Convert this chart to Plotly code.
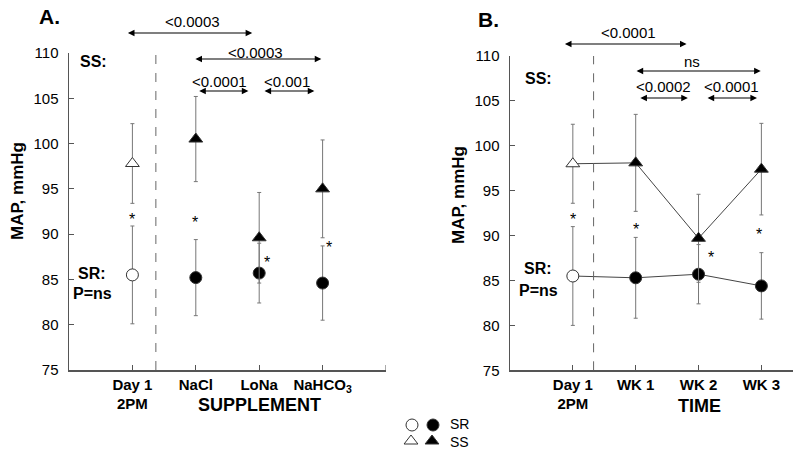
import plotly.graph_objects as go

# ---------------- data ----------------
cats_a = ["Day 1<br>2PM", "NaCl", "LoNa", "NaHCO<sub>3</sub>"]
cats_b = ["Day 1<br>2PM", "WK 1", "WK 2", "WK 3"]
x_pos = [1, 2, 3, 4]

sr_a = [85.5, 85.2, 85.7, 84.6]
sr_a_err = [5.4, 4.2, 3.3, 4.1]
ss_a = [97.8, 100.5, 89.6, 95.0]
ss_a_err = [4.4, 4.7, 5.0, 5.4]

sr_b = [85.5, 85.3, 85.7, 84.4]
sr_b_err = [5.5, 4.5, 3.3, 3.7]
ss_b = [98.0, 98.1, 89.7, 97.4]
ss_b_err = [4.4, 5.4, 4.9, 5.1]

# asterisk positions (x, y)
star_a_x = [1.0, 1.98, 3.13, 4.1]
star_a_y = [92.1, 91.7, 87.3, 89.0]
star_b_x = [1.0, 2.0, 3.2, 3.97]
star_b_y = [92.2, 91.1, 88.0, 90.6]

# p-value brackets: label, label x, label y(px), arrow start x, arrow end x, arrow y(px)
brackets_a = [
    ("<0.0003", 1.94, 21, 0.905, 2.89, 33),
    ("<0.0003", 2.94, 52, 1.97, 3.98, 59),
    ("<0.0001", 2.38, 81, 2.03, 2.83, 91),
    ("<0.001", 3.44, 81, 3.06, 3.87, 91),
]
brackets_b = [
    ("<0.0001", 1.89, 33, 0.85, 2.81, 44),
    ("ns", 2.89, 62, 1.99, 3.99, 71),
    ("<0.0002", 2.45, 86, 2.05, 2.83, 98),
    ("<0.0001", 3.53, 86, 3.12, 3.93, 98),
]

# key (legend) entries: label, pixel x of open / filled symbol, pixel y
key_labels = ["SR", "SS"]
key_symbols = ["circle", "triangle-up"]
key_x_open = [412, 411]
key_x_filled = [433, 432]
key_y = [425, 441]

H = 455.0
FONT = "Liberation Sans, Arial, Helvetica, sans-serif"
AX = "#555555"
ERR = "#777777"
open_fill = ["white", "black", "black", "black"]


def py(px):
    return 1 - px / H


fig = go.Figure()

# ---- panel A ----
fig.add_trace(go.Scatter(
    x=x_pos, y=sr_a, mode="markers", xaxis="x", yaxis="y",
    marker=dict(symbol="circle", size=12, color=open_fill, line=dict(color="#333", width=1)),
    error_y=dict(type="data", array=sr_a_err, color=ERR, thickness=1, width=2),
    showlegend=False, cliponaxis=False))
fig.add_trace(go.Scatter(
    x=x_pos, y=ss_a, mode="markers", xaxis="x", yaxis="y",
    marker=dict(symbol="triangle-up", size=12, color=open_fill, line=dict(color="#333", width=1)),
    error_y=dict(type="data", array=ss_a_err, color=ERR, thickness=1, width=2),
    showlegend=False, cliponaxis=False))

# ---- panel B ----
fig.add_trace(go.Scatter(
    x=x_pos, y=sr_b, mode="lines+markers", xaxis="x2", yaxis="y2",
    line=dict(color="#444", width=1),
    marker=dict(symbol="circle", size=12, color=open_fill, line=dict(color="#333", width=1)),
    error_y=dict(type="data", array=sr_b_err, color=ERR, thickness=1, width=2),
    showlegend=False, cliponaxis=False))
fig.add_trace(go.Scatter(
    x=x_pos, y=ss_b, mode="lines+markers", xaxis="x2", yaxis="y2",
    line=dict(color="#444", width=1),
    marker=dict(symbol="triangle-up", size=12, color=open_fill, line=dict(color="#333", width=1)),
    error_y=dict(type="data", array=ss_b_err, color=ERR, thickness=1, width=2),
    showlegend=False, cliponaxis=False))

# ---- key markers on a hidden full-page axis (pixel units) ----
for sym, xo, xf, yk in zip(key_symbols, key_x_open, key_x_filled, key_y):
    fig.add_trace(go.Scatter(
        x=[xo, xf], y=[yk, yk], mode="markers", xaxis="x3", yaxis="y3",
        marker=dict(symbol=sym, size=12, color=["white", "black"], line=dict(color="#333", width=1)),
        showlegend=False, cliponaxis=False, hoverinfo="skip"))

annotations = []
# asterisks
for xs, ys, xr, yr in [(star_a_x, star_a_y, "x", "y"), (star_b_x, star_b_y, "x2", "y2")]:
    for xv, yv in zip(xs, ys):
        annotations.append(dict(x=xv, y=yv, xref=xr, yref=yr, text="*", showarrow=False,
                                xanchor="center", yanchor="middle",
                                font=dict(size=16, family=FONT, color="black"),
                                yshift=-4))

# brackets
for brs, xr in [(brackets_a, "x"), (brackets_b, "x2")]:
    for lab, lx, ly, a0, a1, ay in brs:
        annotations.append(dict(x=lx, y=py(ly), xref=xr, yref="paper", text=lab,
                                xanchor="center", yanchor="middle",
                                showarrow=False, font=dict(size=15, family=FONT, color="black")))
        annotations.append(dict(x=a1, y=py(ay), xref=xr, yref="paper", ax=a0, axref=xr,
                                ay=0, ayref="pixel", text="", showarrow=True,
                                xanchor="center", yanchor="middle",
                                arrowside="end+start", arrowhead=2, arrowsize=1.1,
                                arrowwidth=1.2, arrowcolor="black", standoff=0, startstandoff=0))

bold = dict(family=FONT, size=16, color="black", weight="bold")
# panel labels and group labels
for txt, xpx, ypx, size in [
    ("A.", 49, 17, 21), ("B.", 489, 20, 21),
    ("SS:", 93, 62, 16), ("SR:", 92, 273, 16), ("P=ns", 92, 293, 16),
    ("SS:", 538, 78, 16), ("SR:", 538, 268, 16), ("P=ns", 538, 290, 16),
]:
    annotations.append(dict(x=xpx / 800, y=py(ypx), xref="paper", yref="paper", text=txt,
                            xanchor="center", yanchor="middle",
                            showarrow=False, font=dict(bold, size=size)))

# axis titles
for txt, xpx, ypx, ang in [
    ("MAP, mmHg", 17, 191, -90), ("MAP, mmHg", 458, 195, -90),
    ("SUPPLEMENT", 259, 405, 0), ("TIME", 699, 406, 0),
]:
    annotations.append(dict(x=xpx / 800, y=py(ypx), xref="paper", yref="paper", text=txt,
                            xanchor="center", yanchor="middle",
                            textangle=ang, showarrow=False, font=dict(bold, size=18 if ang == 0 else 17)))

# key labels (one two-line text block)
annotations.append(dict(x=449 / 800, y=py(sum(key_y) / 2), xref="paper", yref="paper",
                        text="<br>".join(key_labels), align="left",
                        xanchor="left", yanchor="middle", borderpad=0,
                        showarrow=False, font=dict(family=FONT, size=14, color="black")))

shapes = [
    dict(type="line", xref="x", yref="y", x0=1.37, x1=1.37, y0=75, y1=110,
         line=dict(color="#666", width=1, dash="dash")),
    dict(type="line", xref="x2", yref="y2", x0=1.33, x1=1.33, y0=75, y1=110,
         line=dict(color="#666", width=1, dash="dash")),
    # end-of-axis tick on panel A's x axis
    dict(type="line", xref="x", yref="y", x0=5, x1=5, y0=75, y1=75, ysizemode="pixel",
         yanchor=75, line=dict(color=AX, width=1)),
]
shapes[-1].update(y0=0, y1=5)

xcommon = dict(showgrid=False, zeroline=False, showline=True, linecolor=AX, linewidth=1.5,
               ticks="inside", ticklen=5, tickcolor=AX, tickwidth=1, automargin=False,
               tickfont=dict(family=FONT, size=15, color="black", weight="bold"))
ycommon = dict(showgrid=False, zeroline=False, showline=True, linecolor=AX, linewidth=1.5,
               ticks="inside", ticklen=5, tickcolor=AX, tickwidth=1, range=[75, 110],
               tickvals=[75, 80, 85, 90, 95, 100, 105, 110], ticklabelstandoff=6,
               automargin=False,
               tickfont=dict(family=FONT, size=15, color="black"))
hidden = dict(visible=False, showgrid=False, zeroline=False, automargin=False)

fig.update_layout(
    width=800, height=455, margin=dict(l=0, r=0, t=0, b=0, autoexpand=False),
    plot_bgcolor="rgba(0,0,0,0)", paper_bgcolor="white",
    xaxis=dict(xcommon, domain=[0.08625, 0.4825], range=[0, 5], anchor="y",
               tickvals=x_pos, ticktext=cats_a),
    yaxis=dict(ycommon, domain=[1 - 370 / H, 1 - 53 / H], anchor="x"),
    xaxis2=dict(xcommon, domain=[0.6375, 0.991], range=[0, 4.5], anchor="y2",
                tickvals=x_pos, ticktext=cats_b),
    yaxis2=dict(ycommon, domain=[1 - 370.3 / H, 1 - 56 / H], anchor="x2"),
    xaxis3=dict(hidden, domain=[0, 1], range=[0, 800], anchor="y3"),
    yaxis3=dict(hidden, domain=[0, 1], range=[455, 0], anchor="x3"),
    annotations=annotations, shapes=shapes,
    font=dict(family=FONT),
    hovermode=False,
)

fig.write_html(
    "out.html",
    config={"displayModeBar": False, "staticPlot": True},
    post_script="document.body.style.margin='0px';document.body.style.overflow='hidden';",
)
